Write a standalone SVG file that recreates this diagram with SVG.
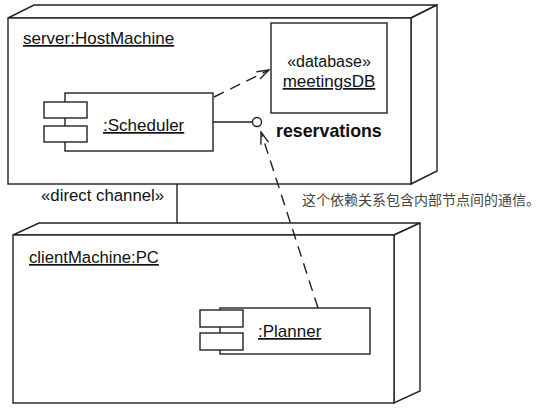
<svg xmlns="http://www.w3.org/2000/svg" width="543" height="409" viewBox="0 0 543 409">
<style>
.ln{fill:none;stroke:#222;stroke-width:1.4;stroke-linejoin:miter}
.face{fill:#fff;stroke:#222;stroke-width:1.4}
.t{font-family:"Liberation Sans",Arial,sans-serif;fill:#111}
.u{text-decoration:underline}
.dash{fill:none;stroke:#222;stroke-width:1.4;stroke-dasharray:11 7}
</style>
<defs>
<marker id="open" viewBox="0 0 14 10" refX="13" refY="5" markerWidth="14" markerHeight="10" markerUnits="userSpaceOnUse" orient="auto">
<path d="M1,1 L13,5 L1,9" fill="none" stroke="#222" stroke-width="1.4"/>
</marker>
</defs>
<rect width="543" height="409" fill="#fff"/>

<g id="server">
<polygon class="face" points="8,18 34,5 437,5 411,18"/>
<polygon class="face" points="411,18 437,5 437,171 411,184"/>
<rect class="face" x="8" y="18" width="403" height="166"/>
<text class="t u" x="23" y="44" font-size="17">server:HostMachine</text>
</g>

<g id="meetingsDB">
<rect class="face" x="271" y="23" width="116" height="90"/>
<text class="t" x="329" y="67" font-size="16" text-anchor="middle">«database»</text>
<text class="t u" x="329" y="87" font-size="17" text-anchor="middle">meetingsDB</text>
</g>

<g id="scheduler">
<rect class="face" x="65" y="93" width="148" height="58"/>
<rect class="face" x="44" y="102" width="43" height="16"/>
<rect class="face" x="44" y="126" width="43" height="16"/>
<text class="t u" x="103" y="131" font-size="17">:Scheduler</text>
</g>

<g id="reservations">
<line class="ln" x1="213" y1="122" x2="252.5" y2="122"/>
<circle class="face" cx="257" cy="122" r="4.5"/>
<text class="t" x="276" y="137" font-size="17.8" font-weight="bold">reservations</text>
</g>

<g id="client">
<polygon class="face" points="13,235 39,223 420,223 394,235"/>
<polygon class="face" points="394,235 420,223 420,391 394,403"/>
<rect class="face" x="13" y="235" width="381" height="168"/>
<text class="t u" x="29" y="263" font-size="16.7">clientMachine:PC</text>
</g>

<g id="planner">
<rect class="face" x="220" y="308" width="150" height="46"/>
<rect class="face" x="200" y="310" width="43" height="17"/>
<rect class="face" x="200" y="333" width="43" height="17"/>
<text class="t u" x="258" y="337" font-size="17">:Planner</text>
</g>

<g id="connectors">
<line class="ln" x1="177" y1="184" x2="177" y2="223"/>
<line class="dash" x1="214" y1="97" x2="269" y2="70" marker-end="url(#open)"/>
<line class="dash" x1="318" y1="308" x2="261" y2="132" marker-end="url(#open)"/>
</g>

<g id="labels">
<text class="t" x="41" y="201" font-size="16.8">«direct channel»</text>
<text x="302" y="205" font-size="14" fill="#444" font-family="'Noto Sans CJK SC',sans-serif">这个依赖关系包含内部节点间的通信。</text>
</g>
</svg>
